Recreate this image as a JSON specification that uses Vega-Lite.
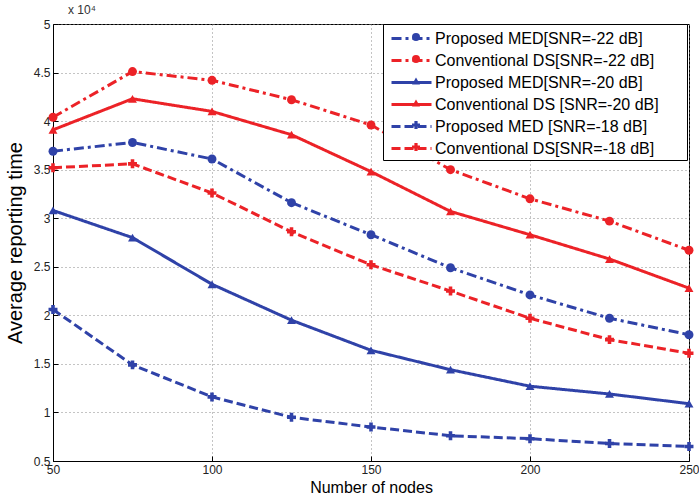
{
  "$schema": "https://vega.github.io/schema/vega-lite/v6.json",
  "width": 636,
  "height": 437,
  "autosize": "none",
  "padding": {"left": 53, "top": 24, "right": 10, "bottom": 39},
  "background": "white",
  "title": {"text": "x 10⁴", "anchor": "start", "frame": "group", "fontSize": 12, "font": "Liberation Sans", "fontWeight": "normal", "color": "#333", "offset": 1, "dx": 15},
  "config": {
    "view": {"stroke": "black", "strokeWidth": 1},
    "axis": {"labelFont": "Liberation Sans", "labelFontSize": 12, "labelColor": "#222", "labelOverlap": false, "labelFlush": false, "titleFont": "Liberation Sans", "titleFontWeight": "normal", "titleColor": "black", "domainColor": "black", "tickColor": "black", "gridColor": "#888", "gridDash": [1, 3], "gridWidth": 1, "gridOpacity": 1}
  },
  "data": {"values": [
    {"n": 50, "v": 3.69, "s": "Proposed MED[SNR=-22 dB]"},
    {"n": 75, "v": 3.78, "s": "Proposed MED[SNR=-22 dB]"},
    {"n": 100, "v": 3.61, "s": "Proposed MED[SNR=-22 dB]"},
    {"n": 125, "v": 3.16, "s": "Proposed MED[SNR=-22 dB]"},
    {"n": 150, "v": 2.83, "s": "Proposed MED[SNR=-22 dB]"},
    {"n": 175, "v": 2.49, "s": "Proposed MED[SNR=-22 dB]"},
    {"n": 200, "v": 2.21, "s": "Proposed MED[SNR=-22 dB]"},
    {"n": 225, "v": 1.97, "s": "Proposed MED[SNR=-22 dB]"},
    {"n": 250, "v": 1.80, "s": "Proposed MED[SNR=-22 dB]"},
    {"n": 50, "v": 4.04, "s": "Conventional DS[SNR=-22 dB]"},
    {"n": 75, "v": 4.51, "s": "Conventional DS[SNR=-22 dB]"},
    {"n": 100, "v": 4.42, "s": "Conventional DS[SNR=-22 dB]"},
    {"n": 125, "v": 4.22, "s": "Conventional DS[SNR=-22 dB]"},
    {"n": 150, "v": 3.96, "s": "Conventional DS[SNR=-22 dB]"},
    {"n": 175, "v": 3.50, "s": "Conventional DS[SNR=-22 dB]"},
    {"n": 200, "v": 3.20, "s": "Conventional DS[SNR=-22 dB]"},
    {"n": 225, "v": 2.97, "s": "Conventional DS[SNR=-22 dB]"},
    {"n": 250, "v": 2.67, "s": "Conventional DS[SNR=-22 dB]"},
    {"n": 50, "v": 3.08, "s": "Proposed MED[SNR=-20 dB]"},
    {"n": 75, "v": 2.80, "s": "Proposed MED[SNR=-20 dB]"},
    {"n": 100, "v": 2.32, "s": "Proposed MED[SNR=-20 dB]"},
    {"n": 125, "v": 1.95, "s": "Proposed MED[SNR=-20 dB]"},
    {"n": 150, "v": 1.64, "s": "Proposed MED[SNR=-20 dB]"},
    {"n": 175, "v": 1.44, "s": "Proposed MED[SNR=-20 dB]"},
    {"n": 200, "v": 1.27, "s": "Proposed MED[SNR=-20 dB]"},
    {"n": 225, "v": 1.19, "s": "Proposed MED[SNR=-20 dB]"},
    {"n": 250, "v": 1.09, "s": "Proposed MED[SNR=-20 dB]"},
    {"n": 50, "v": 3.91, "s": "Conventional DS [SNR=-20 dB]"},
    {"n": 75, "v": 4.23, "s": "Conventional DS [SNR=-20 dB]"},
    {"n": 100, "v": 4.10, "s": "Conventional DS [SNR=-20 dB]"},
    {"n": 125, "v": 3.86, "s": "Conventional DS [SNR=-20 dB]"},
    {"n": 150, "v": 3.48, "s": "Conventional DS [SNR=-20 dB]"},
    {"n": 175, "v": 3.07, "s": "Conventional DS [SNR=-20 dB]"},
    {"n": 200, "v": 2.83, "s": "Conventional DS [SNR=-20 dB]"},
    {"n": 225, "v": 2.58, "s": "Conventional DS [SNR=-20 dB]"},
    {"n": 250, "v": 2.28, "s": "Conventional DS [SNR=-20 dB]"},
    {"n": 50, "v": 2.06, "s": "Proposed MED [SNR=-18 dB]"},
    {"n": 75, "v": 1.49, "s": "Proposed MED [SNR=-18 dB]"},
    {"n": 100, "v": 1.16, "s": "Proposed MED [SNR=-18 dB]"},
    {"n": 125, "v": 0.95, "s": "Proposed MED [SNR=-18 dB]"},
    {"n": 150, "v": 0.85, "s": "Proposed MED [SNR=-18 dB]"},
    {"n": 175, "v": 0.76, "s": "Proposed MED [SNR=-18 dB]"},
    {"n": 200, "v": 0.73, "s": "Proposed MED [SNR=-18 dB]"},
    {"n": 225, "v": 0.68, "s": "Proposed MED [SNR=-18 dB]"},
    {"n": 250, "v": 0.65, "s": "Proposed MED [SNR=-18 dB]"},
    {"n": 50, "v": 3.52, "s": "Conventional DS[SNR=-18 dB]"},
    {"n": 75, "v": 3.56, "s": "Conventional DS[SNR=-18 dB]"},
    {"n": 100, "v": 3.26, "s": "Conventional DS[SNR=-18 dB]"},
    {"n": 125, "v": 2.86, "s": "Conventional DS[SNR=-18 dB]"},
    {"n": 150, "v": 2.52, "s": "Conventional DS[SNR=-18 dB]"},
    {"n": 175, "v": 2.25, "s": "Conventional DS[SNR=-18 dB]"},
    {"n": 200, "v": 1.97, "s": "Conventional DS[SNR=-18 dB]"},
    {"n": 225, "v": 1.75, "s": "Conventional DS[SNR=-18 dB]"},
    {"n": 250, "v": 1.61, "s": "Conventional DS[SNR=-18 dB]"}
  ]},
  "encoding": {
    "x": {"field": "n", "type": "quantitative", "scale": {"domain": [50, 250], "nice": false},
      "axis": {"title": "Number of nodes", "titleFontSize": 16, "titlePadding": 4, "values": [50, 100, 150, 200, 250], "tickSize": -5, "labelPadding": 8, "grid": true}},
    "y": {"field": "v", "type": "quantitative", "scale": {"domain": [0.5, 5], "nice": false, "zero": false},
      "axis": {"title": "Average reporting time", "titleFontSize": 20, "titlePadding": 8, "format": "~g", "values": [0.5, 1, 1.5, 2, 2.5, 3, 3.5, 4, 4.5, 5], "tickSize": -5, "labelPadding": 8, "grid": true}}
  },
  "layer": [
    {
      "mark": {"type": "line", "strokeWidth": 3},
      "encoding": {
        "color": {"field": "s", "type": "nominal",
          "scale": {"domain": ["Proposed MED[SNR=-22 dB]", "Conventional DS[SNR=-22 dB]", "Proposed MED[SNR=-20 dB]", "Conventional DS [SNR=-20 dB]", "Proposed MED [SNR=-18 dB]", "Conventional DS[SNR=-18 dB]"],
            "range": ["#2f42a8", "#ec2227", "#2f42a8", "#ec2227", "#2f42a8", "#ec2227"]}},
        "strokeDash": {"field": "s", "type": "nominal",
          "scale": {"domain": ["Proposed MED[SNR=-22 dB]", "Conventional DS[SNR=-22 dB]", "Proposed MED[SNR=-20 dB]", "Conventional DS [SNR=-20 dB]", "Proposed MED [SNR=-18 dB]", "Conventional DS[SNR=-18 dB]"],
            "range": [[10, 4, 3, 4], [10, 4, 3, 4], [1, 0], [1, 0], [9, 4], [9, 4]]},
          "legend": {"title": ".", "titleOrient": "right", "titlePadding": 20, "titleFontSize": 16, "titleOpacity": 0, "orient": "none", "legendX": 330, "legendY": 0, "zindex": 1, "strokeColor": "black", "fillColor": "white", "padding": 3, "symbolType": "M-2,0H2", "symbolSize": 400, "symbolOffset": 14, "symbolStrokeWidth": 3, "labelOffset": 12, "labelFontSize": 16, "labelFont": "Liberation Sans", "labelColor": "black", "rowPadding": 2, "labelLimit": 400}
        }
      }
    },
    {
      "mark": {"type": "point", "filled": true, "opacity": 1, "size": 80},
      "encoding": {
        "fill": {"field": "s", "type": "nominal",
          "scale": {"domain": ["Proposed MED[SNR=-22 dB]", "Conventional DS[SNR=-22 dB]", "Proposed MED[SNR=-20 dB]", "Conventional DS [SNR=-20 dB]", "Proposed MED [SNR=-18 dB]", "Conventional DS[SNR=-18 dB]"],
            "range": ["#2f42a8", "#ec2227", "#2f42a8", "#ec2227", "#2f42a8", "#ec2227"]},
          "legend": {"title": null, "orient": "none", "legendX": 352, "legendY": 2, "zindex": 2, "padding": 3, "symbolSize": 64, "symbolOffset": 0, "labelFontSize": 16, "labelOpacity": 0, "rowPadding": 6, "labelExpr": "''"}},
        "shape": {"field": "s", "type": "nominal",
          "scale": {"domain": ["Proposed MED[SNR=-22 dB]", "Conventional DS[SNR=-22 dB]", "Proposed MED[SNR=-20 dB]", "Conventional DS [SNR=-20 dB]", "Proposed MED [SNR=-18 dB]", "Conventional DS[SNR=-18 dB]"],
            "range": ["circle", "circle", "triangle-up", "triangle-up", "cross", "cross"]},
          "legend": {"title": null, "orient": "none", "legendX": 352, "legendY": 2, "zindex": 2, "padding": 3, "symbolSize": 64, "symbolOffset": 0, "labelFontSize": 16, "labelOpacity": 0, "rowPadding": 6, "labelExpr": "''"}}
      }
    }
  ],
  "resolve": {"scale": {"shape": "independent", "fill": "independent"}, "legend": {"shape": "independent", "fill": "independent"}}
}
